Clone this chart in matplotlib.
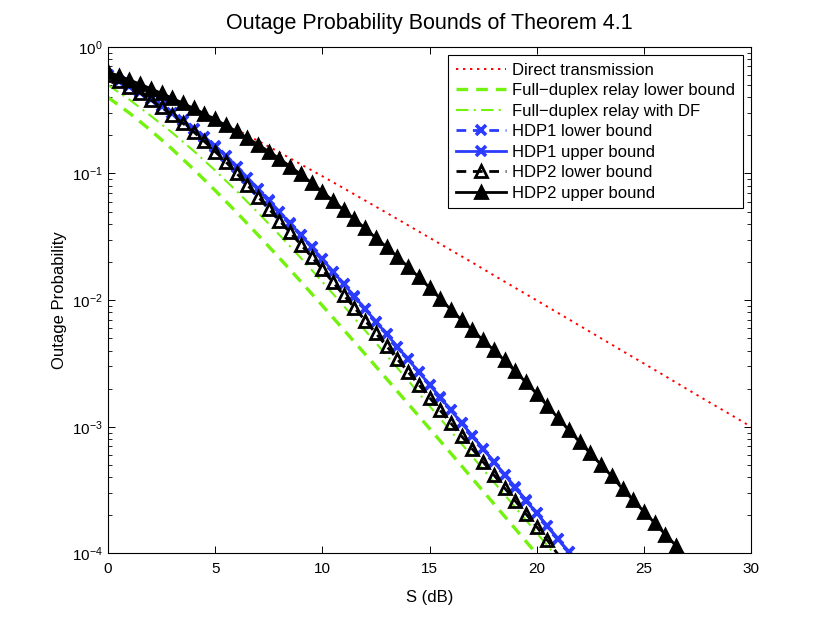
import numpy as np
import matplotlib
matplotlib.use("Agg")
import matplotlib.pyplot as plt
from matplotlib.ticker import LogLocator, NullFormatter

plt.rcParams['font.family'] = ['Liberation Sans', 'DejaVu Sans']

# S in dB for each series
s_direct = np.arange(0, 31, 1)
s_fd = np.arange(0, 22, 1)
s_hdp1 = np.arange(0, 22, 0.5)
s_hdp2_low = np.arange(0, 21.5, 0.5)
s_hdp2_up = np.arange(0, 27.5, 0.5)

# outage probabilities
direct = [0.632, 0.548, 0.468, 0.394, 0.328, 0.271, 0.222, 0.181, 0.147, 0.118,
          0.0952, 0.0764, 0.0611, 0.0489, 0.0390, 0.0311, 0.0248, 0.0198, 0.0157,
          0.0125, 0.00995, 0.00791, 0.00629, 0.00500, 0.00397, 0.00316, 0.00251,
          0.00199, 0.00158, 0.00126, 0.00100]

fd_lower = [0.3996, 0.3004, 0.2189, 0.1554, 0.1078, 0.0735, 0.0494, 0.0327,
            0.0215, 0.0140, 0.00906, 0.00583, 0.00374, 0.00239, 0.00152,
            9.69e-4, 6.16e-4, 3.90e-4, 2.47e-4, 1.565e-4, 9.90e-5, 6.25e-5]

fd_df = [0.500, 0.383, 0.285, 0.210, 0.1507, 0.1057, 0.0727, 0.0491, 0.0327,
         0.0215, 0.01396, 0.00899, 0.00575, 0.00366, 0.00232, 0.00146,
         9.23e-4, 5.81e-4, 3.66e-4, 2.31e-4, 1.45e-4, 9.14e-5]

hdp1_lower = [0.596, 0.540, 0.486, 0.436, 0.387, 0.342, 0.300, 0.261, 0.225,
              0.193, 0.163, 0.1374, 0.1132, 0.0923, 0.0752, 0.0611, 0.0495,
              0.0402, 0.0325, 0.0262, 0.0210, 0.01675, 0.01337, 0.01067,
              0.00849, 0.00676, 0.00538, 0.00428, 0.00340, 0.00270, 0.00214,
              0.00170, 0.001346, 0.001067, 8.45e-4, 6.70e-4, 5.30e-4, 4.19e-4,
              3.31e-4, 2.62e-4, 2.07e-4, 1.64e-4, 1.29e-4, 1.02e-4]
# upper bound lies on top of the lower bound at this scale
hdp1_upper = [0.597, 0.541, 0.487, 0.437, 0.388, 0.343, 0.301, 0.262, 0.226,
              0.194, 0.164, 0.1378, 0.1135, 0.0926, 0.0754, 0.0613, 0.0497,
              0.0403, 0.0326, 0.0263, 0.0211, 0.01680, 0.01341, 0.01070,
              0.00852, 0.00678, 0.00540, 0.00429, 0.00341, 0.00271, 0.00215,
              0.00171, 0.001350, 0.001070, 8.48e-4, 6.72e-4, 5.32e-4, 4.20e-4,
              3.32e-4, 2.63e-4, 2.08e-4, 1.65e-4, 1.30e-4, 1.025e-4]

hdp2_lower = [0.596, 0.538, 0.483, 0.430, 0.380, 0.333, 0.290, 0.249, 0.213,
              0.179, 0.149, 0.1236, 0.1005, 0.0811, 0.0655, 0.0528, 0.0425,
              0.0342, 0.0274, 0.0220, 0.01746, 0.01384, 0.01096, 0.00870,
              0.00689, 0.00546, 0.00433, 0.00342, 0.00271, 0.00215, 0.00170,
              0.001346, 0.001064, 8.42e-4, 6.67e-4, 5.28e-4, 4.17e-4, 3.29e-4,
              2.60e-4, 2.05e-4, 1.62e-4, 1.27e-4, 9.8e-5]

hdp2_upper = [0.632, 0.590, 0.548, 0.507, 0.467, 0.429, 0.393, 0.358, 0.326,
              0.296, 0.267, 0.240, 0.215, 0.191, 0.169, 0.149, 0.131, 0.1135,
              0.0984, 0.0843, 0.0718, 0.0608, 0.0514, 0.0435, 0.0369, 0.0309,
              0.0263, 0.0220, 0.0183, 0.0152, 0.01253, 0.01028, 0.00839,
              0.00695, 0.00579, 0.00483, 0.00403, 0.00334, 0.00274, 0.00224,
              0.00182, 0.00146, 0.00117, 9.38e-4, 7.59e-4, 6.17e-4, 5.01e-4,
              4.07e-4, 3.24e-4, 2.63e-4, 2.14e-4, 1.74e-4, 1.41e-4, 1.15e-4,
              9.3e-5]

y_min, y_max = 1e-4, 1.0

red = '#ff0000'
green = '#73f20d'
blue = '#2b3cff'


def inside(vals):
    # only put markers on points that sit inside the axes (like MATLAB does)
    return [i for i, v in enumerate(vals) if y_min <= v <= y_max]


fig = plt.figure(figsize=(8.3, 6.24), dpi=100)
ax = fig.add_axes([0.13, 0.113, 0.775, 0.812])

ax.plot(s_direct, direct, color=red, lw=1.4, dashes=(1.2, 2.4),
        label='Direct transmission')
ax.plot(s_fd, fd_lower, color=green, lw=2.4, dashes=(3.5, 2.4),
        label='Full\u2212duplex relay lower bound')
ax.plot(s_fd, fd_df, color=green, lw=1.5, dashes=(6, 2.5, 1, 2.5),
        label='Full\u2212duplex relay with DF')
ax.plot(s_hdp1, hdp1_lower, color=blue, lw=2, dashes=(3.5, 2.4), marker='x',
        ms=7, mew=2.6, markevery=inside(hdp1_lower), label='HDP1 lower bound')
ax.plot(s_hdp1, hdp1_upper, '-', color=blue, lw=2, marker='x', ms=7, mew=2.6,
        markevery=inside(hdp1_upper), label='HDP1 upper bound')
ax.plot(s_hdp2_low, hdp2_lower, color='black', lw=2, dashes=(3.5, 2.4),
        marker='^', ms=9, mew=2, mfc='none', markevery=inside(hdp2_lower),
        label='HDP2 lower bound')
ax.plot(s_hdp2_up, hdp2_upper, '-', color='black', lw=2, marker='^', ms=9,
        mew=2, mfc='black', markevery=inside(hdp2_upper), label='HDP2 upper bound')

ax.set_yscale('log')
ax.set_xlim(0, 30)
ax.set_ylim(y_min, y_max)
ax.set_xticks(np.arange(0, 31, 5))
ax.yaxis.set_minor_locator(LogLocator(base=10, subs=np.arange(2, 10)))
ax.yaxis.set_minor_formatter(NullFormatter())

ax.tick_params(which='both', direction='in', top=True, right=True, labelsize=11)
ax.tick_params(which='major', length=5, width=0.7)
ax.tick_params(axis='x', pad=6)
ax.tick_params(which='minor', length=3, width=0.6)
for sp in ax.spines.values():
    sp.set_linewidth(0.8)

ax.set_xlabel('S (dB)', fontsize=12, labelpad=10)
ax.set_ylabel('Outage Probability', fontsize=12)
ax.set_title('Outage Probability Bounds of Theorem 4.1', fontsize=15.5, pad=13)

leg = ax.legend(loc='upper right', fontsize=12, fancybox=False, framealpha=1,
                edgecolor='black', handlelength=3.0, handletextpad=0.4,
                labelspacing=0.33, borderpad=0.45, borderaxespad=0.5)
leg.get_frame().set_linewidth(0.8)

fig.savefig('out.png', dpi=100)
